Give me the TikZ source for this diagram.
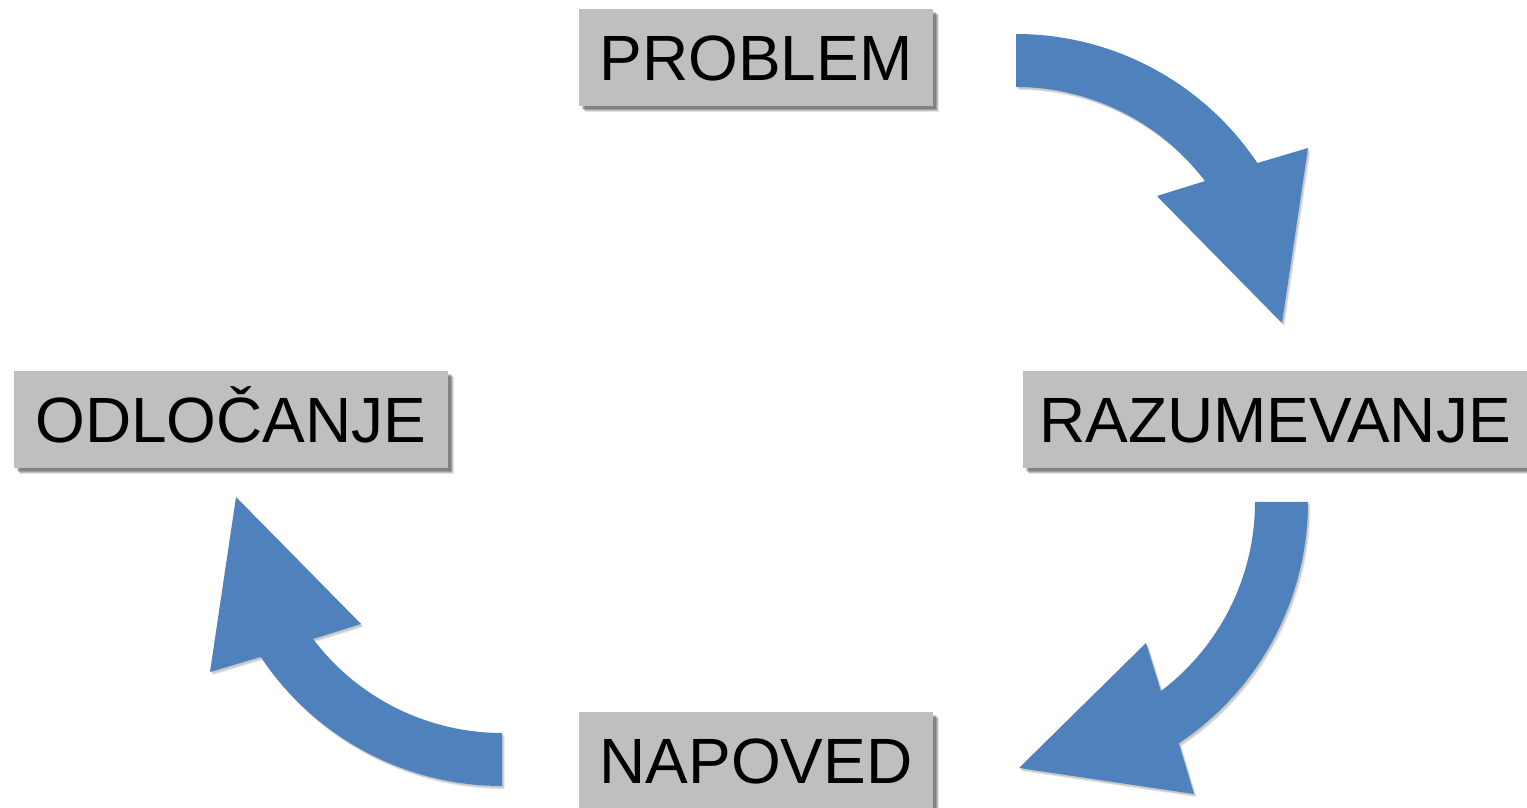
\documentclass[tikz,border=0pt]{standalone}
\usepackage{fontspec}
\setmainfont{Liberation Sans}
\usetikzlibrary{shadows}
\definecolor{boxgray}{RGB}{191,191,191}
\definecolor{arrowblue}{RGB}{79,129,189}
\tikzset{
  softshadow/.style={
    general shadow={shadow xshift=6pt, shadow yshift=-6pt, opacity=0.10, fill=black},
    general shadow={shadow xshift=5pt, shadow yshift=-5pt, opacity=0.15, fill=black},
    general shadow={shadow xshift=4pt, shadow yshift=-4pt, opacity=0.18, fill=black},
    general shadow={shadow xshift=3pt, shadow yshift=-3pt, opacity=0.18, fill=black}},
  labelbox/.style={fill=boxgray, inner sep=0pt, minimum height=97pt,
    text height=46pt, text depth=0pt,
    font=\fontsize{64}{72}\selectfont, softshadow},
  curvarrow/.pic={
    \fill[arrowblue,
      general shadow={shadow xshift=2.5pt, shadow yshift=-3pt, opacity=0.10, fill=black},
      general shadow={shadow xshift=1.5pt, shadow yshift=-2pt, opacity=0.12, fill=black}]
      (90:290pt) arc[start angle=90, end angle=33.7, radius=290pt]
      -- (292pt,176pt) -- (266pt,1pt) -- (141pt,128pt)
      -- (37.1:237pt) arc[start angle=37.1, end angle=90, radius=237pt] -- cycle;
  }
}
\begin{document}
\begin{tikzpicture}[x=1pt,y=1pt]
\useasboundingbox (0,0) rectangle (1527,807);
\fill[white] (0,0) rectangle (1527,807);
\node[labelbox, minimum width=354pt] (problem) at (756,749.5) {PROBLEM};
\node[labelbox, minimum width=434pt] (odlocanje) at (231,387.5) {ODLOČANJE};
\node[labelbox, minimum width=504pt] (razumevanje) at (1275,387.5) {RAZUMEVANJE};
\node[labelbox, minimum width=354pt] (napoved) at (756,46.5) {NAPOVED};
\coordinate (c1) at (1016,483);
\coordinate (c2) at (1018,305);
\coordinate (c3) at (502,311);
\pic at (c1) {curvarrow};
\pic[rotate=-90] at (c2) {curvarrow};
\pic[rotate=180] at (c3) {curvarrow};
\end{tikzpicture}
\end{document}
